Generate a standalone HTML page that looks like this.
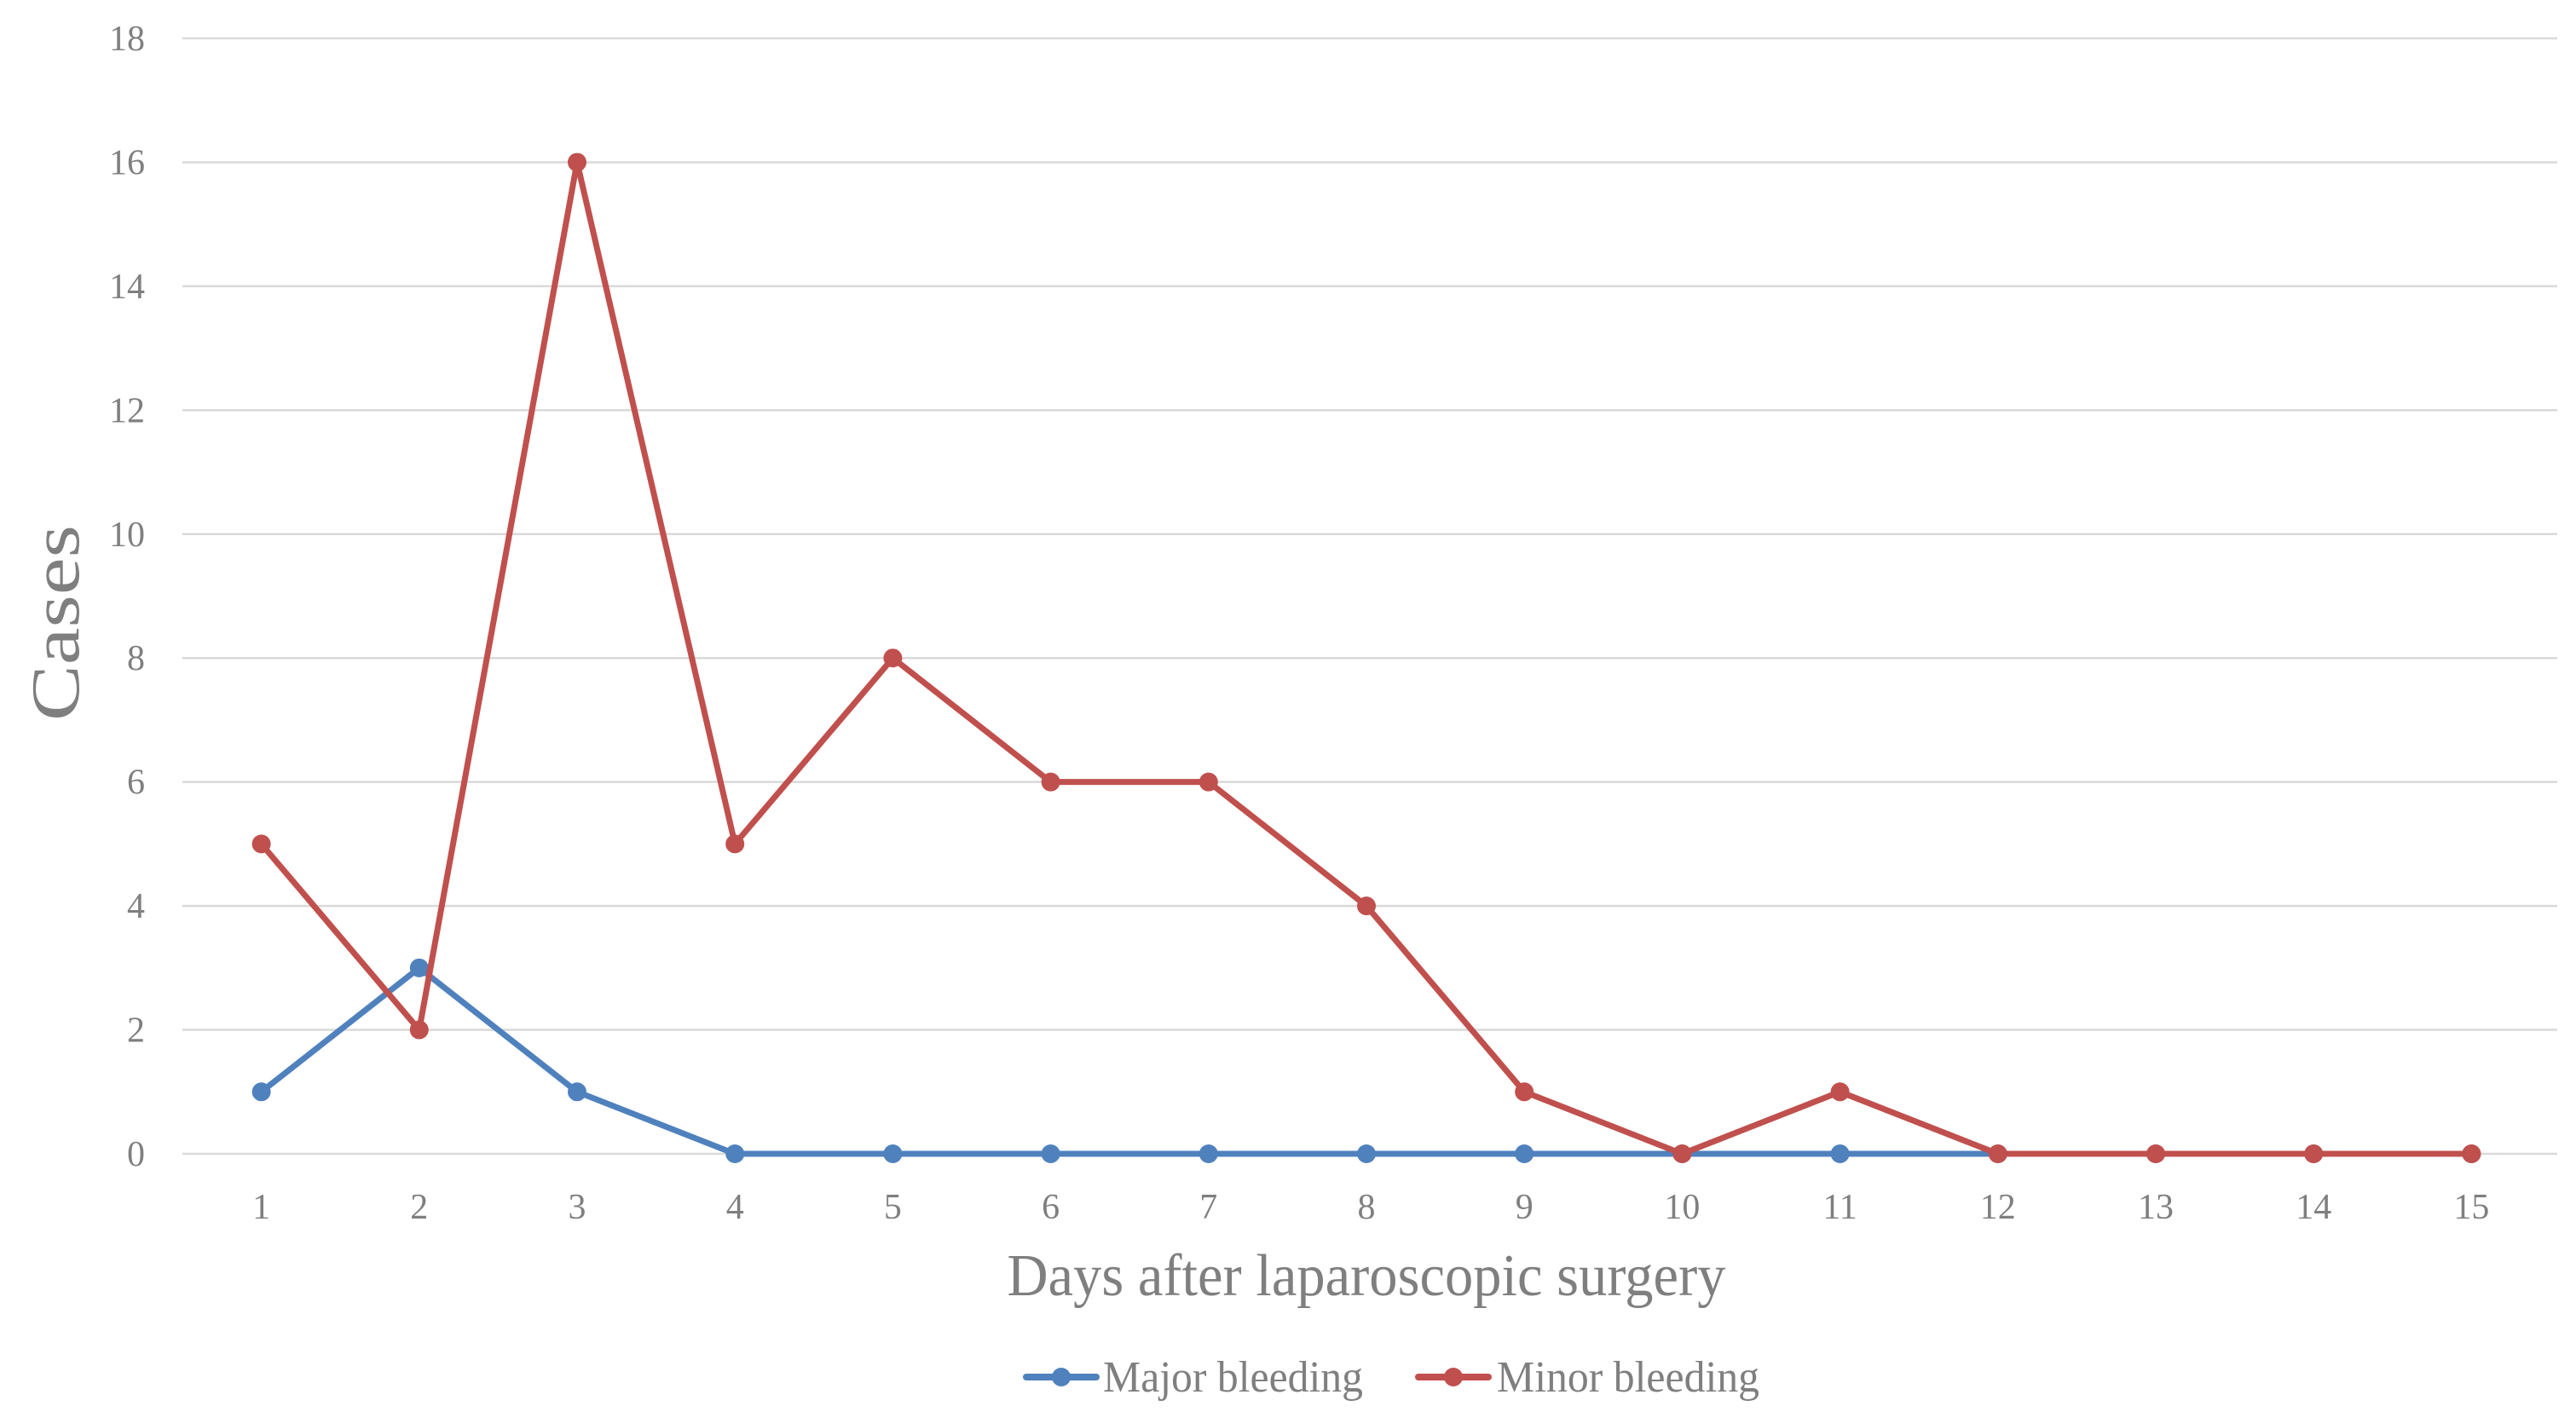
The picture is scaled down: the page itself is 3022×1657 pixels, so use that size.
<!DOCTYPE html>
<html><head><meta charset="utf-8"><style>
html,body{margin:0;padding:0;background:#fff;}
svg{display:block;font-family:"Liberation Serif",serif;}
</style></head><body>
<svg id="chart" width="3022" height="1657" viewBox="0 0 3022 1657" xmlns="http://www.w3.org/2000/svg">
<g id="grid"></g>
<g id="yticks"></g>
<g id="xticks"></g>
<g id="series"></g>
<text x="0" y="0" transform="translate(92,731) rotate(-90)" text-anchor="middle" font-size="80" fill="#7f7f7f" textLength="230" lengthAdjust="spacingAndGlyphs">Cases</text>
<text x="1603" y="1520" text-anchor="middle" font-size="70" fill="#7f7f7f" textLength="843" lengthAdjust="spacingAndGlyphs">Days after laparoscopic surgery</text>
<g>
<g>
<line x1="1204" y1="1616" x2="1286" y2="1616" stroke="#4f81bd" stroke-width="8" stroke-linecap="round"/>
<circle cx="1245" cy="1616" r="11" fill="#4f81bd"/>
<text x="1294" y="1633" font-size="52" fill="#7f7f7f" textLength="305" lengthAdjust="spacingAndGlyphs">Major bleeding</text>
</g>
<g>
<line x1="1664" y1="1616" x2="1746" y2="1616" stroke="#c0504d" stroke-width="8" stroke-linecap="round"/>
<circle cx="1705" cy="1616" r="11" fill="#c0504d"/>
<text x="1756" y="1633" font-size="52" fill="#7f7f7f" textLength="308" lengthAdjust="spacingAndGlyphs">Minor bleeding</text>
</g>
</g>
</svg>
<script>
const categories = [1,2,3,4,5,6,7,8,9,10,11,12,13,14,15];
const majorBleeding = [1,3,1,0,0,0,0,0,0,0,0,0,0,0,0];
const minorBleeding = [5,2,16,5,8,6,6,4,1,0,1,0,0,0,0];
const yTicks = [0,2,4,6,8,10,12,14,16,18];

const NS = "http://www.w3.org/2000/svg";
const left = 214, right = 2992, y0 = 1354, y18 = 45;
const band = (right - left) / categories.length;
function xScale(i){ return left + band * (i + 0.5); }
function yScale(v){ return y0 - (v / 18) * (y0 - y18); }
function mk(tag, attrs, parent){
  const e = document.createElementNS(NS, tag);
  for (const k in attrs) e.setAttribute(k, attrs[k]);
  parent.appendChild(e);
  return e;
}
const grid = document.getElementById('grid');
const yt = document.getElementById('yticks');
yTicks.forEach(t => {
  const l = mk('line', {x1:left, x2:3000, y1:yScale(t), y2:yScale(t), stroke:'#d9d9d9', 'stroke-width':2.5}, grid);
  
  
  const tx = mk('text', {x:170, y:yScale(t)+14, 'text-anchor':'end', 'font-size':42, fill:'#7f7f7f'}, yt);
  tx.textContent = t;
  
  
});
const xt = document.getElementById('xticks');
categories.forEach((c, i) => {
  const tx = mk('text', {x:xScale(i), y:1430, 'text-anchor':'middle', 'font-size':42, fill:'#7f7f7f'}, xt);
  tx.textContent = c;
  
  
});
const sg = document.getElementById('series');
function drawSeries(vals, color, name){
  const g = mk('g', {}, sg);
  
  
  const pts = vals.map((v, i) => xScale(i) + ',' + yScale(v)).join(' ');
  const pl = mk('polyline', {points:pts, fill:'none', stroke:color, 'stroke-width':7, 'stroke-linejoin':'round'}, g);
  
  
  vals.forEach((v, i) => {
    const c = mk('circle', {cx:xScale(i), cy:yScale(v), r:11, fill:color}, g);
    
    
  });
}
drawSeries(majorBleeding, '#4f81bd', 'major-bleeding');
drawSeries(minorBleeding, '#c0504d', 'minor-bleeding');
</script>
</body></html>
